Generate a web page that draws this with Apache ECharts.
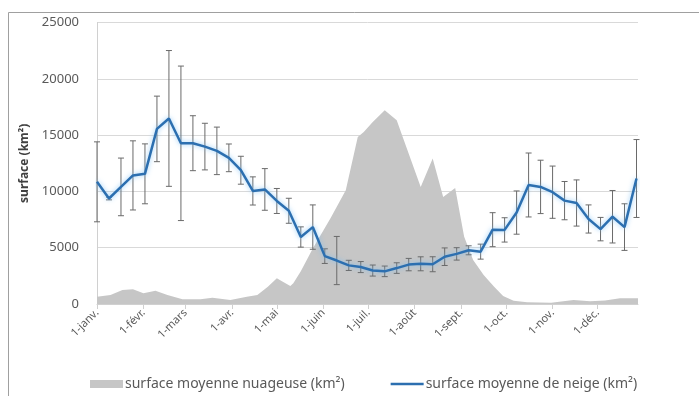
<!DOCTYPE html>
<html><head><meta charset="utf-8">
<script src="https://cdn.jsdelivr.net/npm/echarts@6/dist/echarts.min.js"></script>
<style>html,body{margin:0;padding:0;background:#fff}#c{width:699px;height:396px}</style>
</head><body><div id="c"></div>
<script>
// Month tick positions (day of year) and labels
const monthDays = [1, 32, 60, 91, 121, 152, 182, 213, 244, 274, 305, 335];
const monthLabels = ['1-janv.', '1-févr.', '1-mars', '1-avr.', '1-mai', '1-juin', '1-juil.', '1-août', '1-sept.', '1-oct.', '1-nov.', '1-déc.'];
const yTicks = [0, 5000, 10000, 15000, 20000, 25000];

// Cloud-covered mean surface (km²)
const cloudDays = [1, 10, 18, 25, 32, 40, 48, 58, 70, 78, 90, 101, 108, 115, 121, 125, 130, 132, 137, 145, 157, 167, 175, 179, 185, 193, 201, 205, 217, 225, 232, 240, 246, 252, 259, 266, 272, 279, 288, 304, 319, 330, 340, 350, 362];
const cloudValues = [650, 800, 1240, 1300, 950, 1180, 800, 420, 420, 560, 350, 650, 800, 1530, 2280, 1980, 1600, 1835, 2900, 4940, 7650, 10100, 14830, 15270, 16160, 17200, 16310, 14830, 10400, 12915, 9510, 10300, 5970, 3900, 2570, 1530, 710, 290, 150, 120, 350, 250, 300, 500, 500];

// Snow mean surface (km²) and standard deviation (error bars)
const snowDays = [1, 9, 17, 25, 33, 41, 49, 57, 65, 73, 81, 89, 97, 105, 113, 121, 129, 137, 145, 153, 161, 169, 177, 185, 193, 201, 209, 217, 225, 233, 241, 249, 257, 265, 273, 281, 289, 297, 305, 313, 321, 329, 337, 345, 353, 361];
const snowMean = [10850, 9370, 10400, 11420, 11560, 15550, 16480, 14270, 14280, 13980, 13600, 12980, 11880, 10040, 10175, 9150, 8280, 5950, 6830, 4250, 3860, 3430, 3280, 2970, 2900, 3190, 3500, 3570, 3530, 4200, 4450, 4770, 4650, 6600, 6580, 8120, 10570, 10400, 9930, 9180, 8970, 7550, 6650, 7750, 6830, 11145];
const snowSd = [3550, 120, 2560, 3070, 2660, 2910, 6030, 6860, 2440, 2070, 2110, 1230, 1240, 1250, 1850, 1110, 1110, 900, 1970, 650, 2140, 450, 490, 490, 470, 470, 550, 620, 665, 780, 550, 400, 665, 1510, 1080, 1920, 2840, 2370, 2320, 1700, 2050, 1250, 1040, 2330, 2070, 3460];

const seriesNames = ['surface moyenne nuageuse (km²)', 'surface moyenne de neige (km²)'];

const cloudData = cloudDays.map((d, i) => [d, cloudValues[i]]);
const snowData = snowDays.map((d, i) => [d, snowMean[i]]);
const errData = snowDays.map((d, i) => [d, snowMean[i] - snowSd[i], snowMean[i] + snowSd[i]]);

const FONT = 'Noto Sans';
const chart = echarts.init(document.getElementById('c'), null, {renderer: 'canvas'});
chart.setOption({
  animation: false,
  backgroundColor: '#fff',
  textStyle: {fontFamily: FONT},
  grid: {left: 97, right: 61, top: 22.5, bottom: 92, containLabel: false},
  graphic: [{
    type: 'rect', z: 100, silent: true,
    shape: {x: 8.5, y: 12.5, width: 900, height: 600},
    style: {fill: 'none', stroke: '#a0a0a0', lineWidth: 1}
  }],
  legend: {
    left: 85, top: 372,
    itemWidth: 33, itemHeight: 8, itemGap: 46,
    textStyle: {color: '#595959', fontSize: 14, fontFamily: FONT, padding: [0, 0, 0, -3]},
    data: [
      {name: seriesNames[0], icon: 'rect'},
      {name: seriesNames[1], icon: 'path://M0,0 L0.01,0 L0.01,8 L0,8 Z M0,2.7 L33,2.7 L33,5.3 L0,5.3 Z'}
    ]
  },
  xAxis: {
    type: 'value', min: 1, max: 362,
    splitLine: {show: false},
    axisLine: {show: true, lineStyle: {color: '#d0d0d0', width: 1}},
    axisTick: {show: true, customValues: monthDays, length: 5, lineStyle: {color: '#d0d0d0'}},
    axisLabel: {
      customValues: monthDays, rotate: 45, margin: 7,
      color: '#595959', fontSize: 11, fontFamily: FONT,
      formatter: v => monthLabels[monthDays.indexOf(v)]
    }
  },
  yAxis: {
    type: 'value', min: 0, max: 25000, interval: 5000,
    name: 'surface (km²)', nameLocation: 'middle', nameGap: 64,
    nameTextStyle: {color: '#404040', fontWeight: 'bold', fontSize: 12, fontFamily: FONT},
    axisLine: {show: true, lineStyle: {color: '#d0d0d0'}},
    axisTick: {show: false},
    splitLine: {lineStyle: {color: '#d9d9d9', width: 1}},
    axisLabel: {color: '#595959', fontSize: 13, margin: 18, fontFamily: FONT,
      customValues: yTicks, formatter: v => String(v)}
  },
  series: [
    {
      name: seriesNames[0], type: 'line', data: cloudData, z: 1,
      symbol: 'none', smooth: false,
      itemStyle: {color: '#c6c6c6'},
      lineStyle: {width: 0, color: '#c6c6c6'},
      areaStyle: {color: '#c6c6c6', opacity: 1}
    },
    {
      name: 'err', type: 'custom', z: 3, data: errData,
      encode: {x: 0, y: [1, 2]},
      renderItem: function (params, api) {
        const x = api.value(0);
        const lo = api.coord([x, api.value(1)]);
        const hi = api.coord([x, api.value(2)]);
        const w = 3;
        const st = {stroke: '#6a6a6a', lineWidth: 1};
        return {type: 'group', children: [
          {type: 'line', shape: {x1: lo[0], y1: lo[1], x2: hi[0], y2: hi[1]}, style: st},
          {type: 'line', shape: {x1: lo[0] - w, y1: lo[1], x2: lo[0] + w, y2: lo[1]}, style: st},
          {type: 'line', shape: {x1: hi[0] - w, y1: hi[1], x2: hi[0] + w, y2: hi[1]}, style: st}
        ]};
      }
    },
    {
      name: seriesNames[1], type: 'line', data: snowData, z: 4,
      symbol: 'none', smooth: false,
      itemStyle: {color: '#2c6fb0'},
      lineStyle: {width: 2.5, color: '#2c6fb0', shadowColor: 'rgba(120,190,245,0.8)', shadowBlur: 5}
    }
  ]
});
</script></body></html>
